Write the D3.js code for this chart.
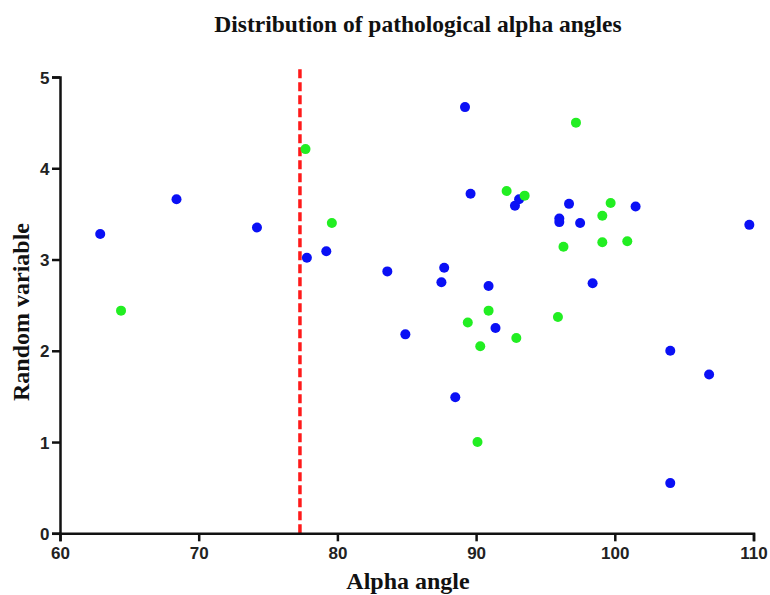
<html>
<head>
<script src="https://d3js.org/d3.v7.min.js"></script>
<style>
	body { margin: 0; background: #fff; }
	.ttl { font-family: "Liberation Serif", "Times New Roman", serif; font-weight: bold; fill: #111; }
</style>
</head>
<body>
<svg width="770" height="595"></svg>
<script>
	// alpha angle (x) and random variable (y), blue group
	const blueX = [62.9, 68.4, 74.2, 77.8, 79.2, 83.6, 84.9, 87.5, 87.7, 88.5, 89.2, 89.6, 90.9, 91.4, 92.8, 93.1, 96.0, 96.0, 96.7, 97.5, 98.4, 101.5, 104.0, 104.0, 106.8, 109.7];
	const blueY = [3.28, 3.66, 3.35, 3.02, 3.09, 2.87, 2.18, 2.75, 2.91, 1.49, 4.67, 3.72, 2.71, 2.25, 3.59, 3.66, 3.45, 3.41, 3.61, 3.40, 2.74, 3.58, 2.00, 0.55, 1.74, 3.38];
	// green group
	const greenX = [64.4, 77.7, 79.6, 89.4, 90.1, 90.3, 90.9, 92.2, 92.9, 93.5, 95.9, 96.3, 97.2, 99.1, 99.1, 99.7, 100.9];
	const greenY = [2.44, 4.21, 3.40, 2.31, 1.00, 2.05, 2.44, 3.75, 2.14, 3.70, 2.37, 3.14, 4.50, 3.48, 3.19, 3.62, 3.20];
	const xTicks = [60, 70, 80, 90, 100, 110];
	const yTicks = [0, 1, 2, 3, 4, 5];
	const cutoff = 77.3;

	const svg = d3.select("svg");
	const x = d3.scaleLinear().domain([60, 110]).range([60, 753.5]);
	const y = d3.scaleLinear().domain([0, 5]).range([533.3, 77]);

	// dashed cutoff line
	svg.append("line")
		.attr("x1", x(cutoff)).attr("x2", x(cutoff))
		.attr("y1", y(0)).attr("y2", 68)
		.attr("stroke", "#ff1a1a").attr("stroke-width", 3.5)
		.attr("stroke-dasharray", "9,4");

	const xAxis = svg.append("g")
		.attr("transform", "translate(0," + y(0) + ")")
		.call(d3.axisBottom(x).tickValues(xTicks).tickFormat(d3.format("d")).tickSize(8).tickPadding(6));
	const yAxis = svg.append("g")
		.attr("transform", "translate(" + x(60) + ",0)")
		.call(d3.axisLeft(y).tickValues(yTicks).tickFormat(d3.format("d")).tickSize(8).tickPadding(2.5));
	[xAxis, yAxis].forEach(function (g) {
		g.attr("font-size", 17).attr("font-family", "'Liberation Sans', Arial, sans-serif");
		g.select(".domain").attr("stroke", "#111").attr("stroke-width", 2.5);
		g.selectAll(".tick line").attr("stroke", "#111").attr("stroke-width", 2.5);
		g.selectAll(".tick text").attr("font-weight", "bold").attr("fill", "#222");
	});
	yAxis.selectAll(".tick text").attr("dy", "0.36em");

	const pts = blueX.map(function (d, i) { return { x: d, y: blueY[i], c: "#0a10f5" }; })
		.concat(greenX.map(function (d, i) { return { x: d, y: greenY[i], c: "#22ee22" }; }));
	svg.append("g").selectAll("circle").data(pts).enter().append("circle")
		.attr("cx", function (d) { return x(d.x); })
		.attr("cy", function (d) { return y(d.y); })
		.attr("r", 5)
		.attr("fill", function (d) { return d.c; });

	svg.append("text").attr("class", "ttl")
		.attr("x", 418).attr("y", 32).attr("text-anchor", "middle")
		.style("font-size", "23.5px")
		.text("Distribution of pathological alpha angles");
	svg.append("text").attr("class", "ttl")
		.attr("x", 408).attr("y", 589).attr("text-anchor", "middle")
		.style("font-size", "24px")
		.text("Alpha angle");
	svg.append("text").attr("class", "ttl")
		.attr("transform", "translate(28.5,312) rotate(-90)")
		.attr("text-anchor", "middle")
		.style("font-size", "24px")
		.text("Random variable");
</script>
</body>
</html>
